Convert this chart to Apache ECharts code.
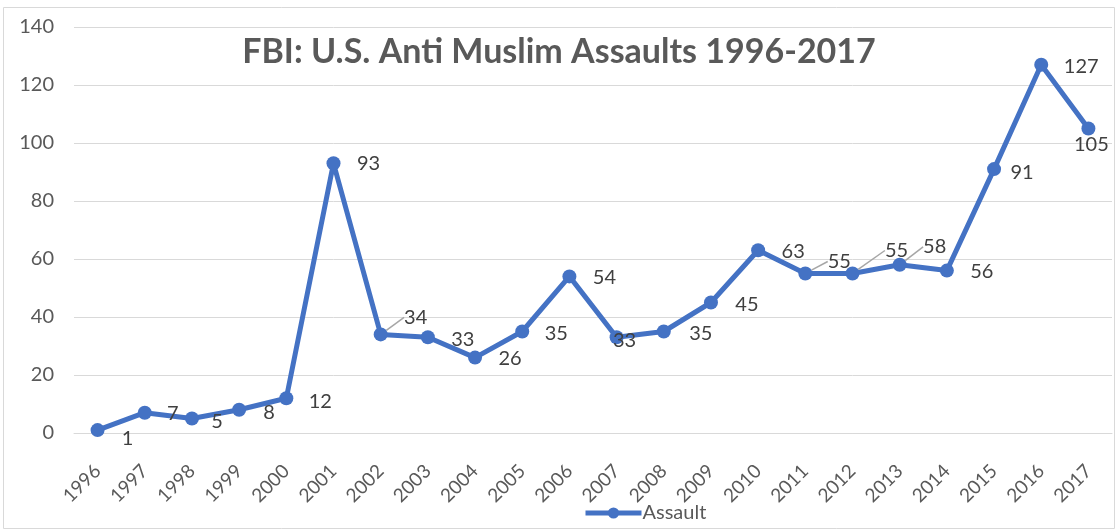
<!DOCTYPE html>
<html>
<head>
<meta charset="utf-8">
<script src="https://cdn.jsdelivr.net/npm/echarts@6/dist/echarts.min.js"></script>
<style>
  html, body { margin: 0; padding: 0; background: #fff; }
  #chart { width: 1118px; height: 531px; }
</style>
</head>
<body>
<div id="chart"></div>
<script>
var years = ['1996', '1997', '1998', '1999', '2000', '2001', '2002', '2003', '2004', '2005', '2006',
  '2007', '2008', '2009', '2010', '2011', '2012', '2013', '2014', '2015', '2016', '2017'];
var assaults = [1, 7, 5, 8, 12, 93, 34, 33, 26, 35, 54, 33, 35, 45, 63, 55, 55, 58, 56, 91, 127, 105];

/*---- label nudges (px from the marker centre), like the hand-placed Excel labels ----*/
var labelShift = [
  [30, 8], [28, 1], [25, 3], [30, 3], [34, 3], [35, 0], [35, -17], [35, 2], [35, 1], [34, 2], [35, 1],
  [8, 3], [37, 2], [36, 2], [35, 1], [34, -12], [44, -23], [35, -18], [35, 1], [28, 3], [40, 2], [3, 16]
];
var withLeader = [6, 15, 16, 17];

var chart = echarts.init(document.getElementById('chart'));

var points = assaults.map(function (v, i) {
  var item = { value: v };
  if (withLeader.indexOf(i) >= 0) {
    item.labelLine = { show: true };
  }
  return item;
});

var option = {
  animation: false,
  title: {
    text: 'FBI: U.S. Anti Muslim Assaults 1996-2017',
    left: 'center',
    top: 30,
    textStyle: {
      fontFamily: 'Lato',
      fontWeight: 'bold',
      fontSize: 34,
      color: '#595959'
    }
  },
  legend: {
    bottom: 3,
    left: 578,
    itemWidth: 56,
    itemHeight: 14,
    itemGap: 4,
    lineStyle: { width: 5 },
    textStyle: { fontFamily: 'Lato', fontSize: 20, color: '#595959', padding: [0, 0, 0, -4] },
    data: ['Assault']
  },
  grid: {
    left: 74,
    right: 6,
    top: 27,
    bottom: 98
  },
  xAxis: {
    type: 'category',
    data: years,
    axisLine: { lineStyle: { color: '#d9d9d9', width: 1 } },
    axisTick: { show: false },
    axisLabel: {
      rotate: 45,
      interval: 0,
      margin: 35,
      fontFamily: 'Lato',
      fontSize: 19,
      color: '#595959'
    }
  },
  yAxis: {
    type: 'value',
    min: 0,
    max: 140,
    interval: 20,
    axisLine: { show: false },
    axisTick: { show: false },
    splitLine: { lineStyle: { color: '#d9d9d9', width: 1 } },
    axisLabel: {
      margin: 20,
      fontFamily: 'Lato',
      fontSize: 20,
      color: '#595959'
    }
  },
  series: [{
    name: 'Assault',
    type: 'line',
    data: points,
    symbol: 'circle',
    symbolSize: 14,
    lineStyle: { color: '#4472c4', width: 5 },
    itemStyle: { color: '#4472c4' },
    label: {
      show: true,
      position: 'inside',
      fontFamily: 'Lato',
      fontSize: 20,
      color: '#404040'
    },
    labelLine: {
      show: false,
      lineStyle: { color: '#a6a6a6', width: 1.5 }
    },
    labelLayout: function (p) {
      var s = labelShift[p.dataIndex];
      return { dx: s[0], dy: s[1] };
    }
  }],
  graphic: [{
    type: 'rect',
    shape: { x: 3.5, y: 7.5, width: 1111, height: 521 },
    style: { fill: 'none', stroke: '#d9d9d9', lineWidth: 1 },
    silent: true,
    z: -1
  }]
};

chart.setOption(option);
</script>
</body>
</html>
